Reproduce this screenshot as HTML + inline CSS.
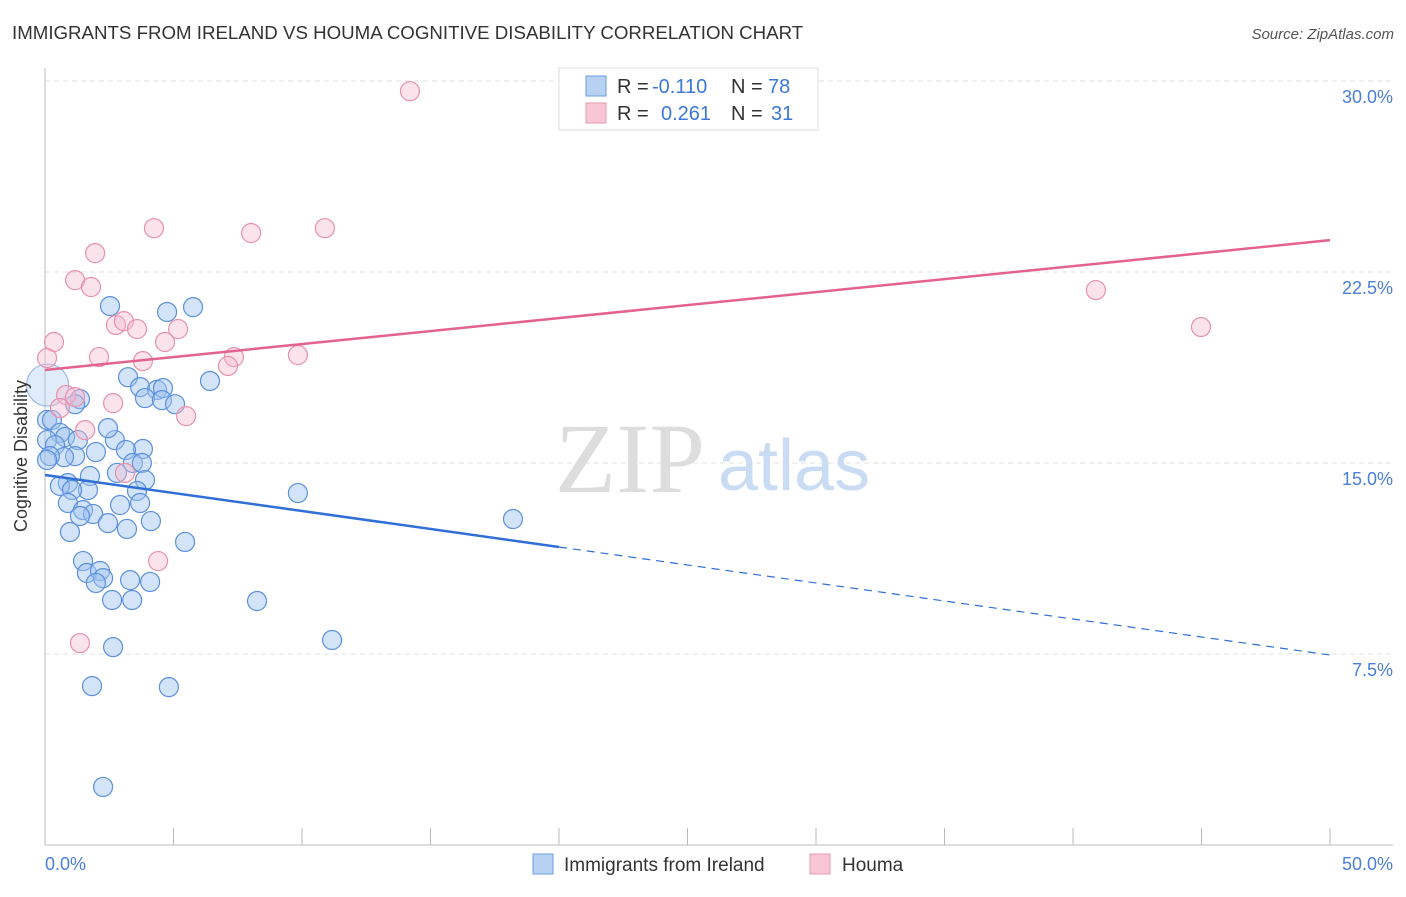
<!DOCTYPE html>
<html><head><meta charset="utf-8"><style>
body{margin:0;background:#fff;font-family:"Liberation Sans",sans-serif;}
</style></head><body>
<svg width="1406" height="892" xmlns="http://www.w3.org/2000/svg" font-family="Liberation Sans, sans-serif">
<text x="12" y="39" font-size="18.7" fill="#333">IMMIGRANTS FROM IRELAND VS HOUMA COGNITIVE DISABILITY CORRELATION CHART</text>
<text x="1394" y="39" font-size="15" fill="#555" font-style="italic" text-anchor="end">Source: ZipAtlas.com</text>
<g id="grid"></g>
<text x="555" y="492" font-size="100" fill="#ddd" font-family="Liberation Serif, serif">ZIP</text>
<text x="718" y="490" font-size="72" fill="#c9dcf3">atlas</text>
<g id="pts"></g>
<g id="lines"></g>
<text x="27" y="456" font-size="18" fill="#333" transform="rotate(-90 27 456)" text-anchor="middle">Cognitive Disability</text>
<text x="45" y="870" font-size="18" fill="#4a7fd8">0.0%</text>
<text x="1393" y="870" font-size="18" fill="#4a7fd8" text-anchor="end">50.0%</text>
<g font-size="20">
<rect x="559" y="68" width="259" height="62" fill="#fff" stroke="#ddd"/>
<rect x="586" y="76" width="20" height="20" fill="#b7d1f3" stroke="#6d9ee0"/>
<rect x="586" y="103" width="20" height="20" fill="#f8c6d5" stroke="#e999b2"/>
<text x="617" y="93" fill="#333">R =</text><text x="652" y="93" fill="#3b78d8">-0.110</text>
<text x="731" y="93" fill="#333">N =</text><text x="768" y="93" fill="#3b78d8">78</text>
<text x="617" y="120" fill="#333">R =</text><text x="661" y="120" fill="#3b78d8">0.261</text>
<text x="731" y="120" fill="#333">N =</text><text x="771" y="120" fill="#3b78d8">31</text>
</g>
<g>
<rect x="533" y="854" width="20" height="20" fill="#b7d1f3" stroke="#6d9ee0"/>
<text x="564" y="871" font-size="19" fill="#333">Immigrants from Ireland</text>
<rect x="810" y="854" width="20" height="20" fill="#f8c6d5" stroke="#e999b2"/>
<text x="842" y="871" font-size="19" fill="#333">Houma</text>
</g>
</svg>
<script>
const yTicks=[7.5,15,22.5,30];
const xTicks=[0,5,10,15,20,25,30,35,40,45,50];
const blueX=[2.53,4.75,5.76,3.23,3.70,4.36,4.59,3.89,4.55,5.06,6.42,1.36,1.17,0.08,0.27,0.58,0.78,0.08,0.39,1.28,2.72,2.45,3.81,3.15,1.98,1.17,0.74,0.19,3.42,3.77,2.80,1.75,3.89,0.89,0.58,1.67,1.05,3.58,3.70,0.89,2.92,1.48,1.87,1.36,4.12,2.45,3.19,0.97,5.45,9.84,18.21,1.48,1.63,2.14,2.26,1.98,3.31,4.09,2.61,3.39,8.25,11.17,2.65,1.83,4.82,2.26,0.08,0.1];
const blueY=[21.16,20.93,21.12,18.37,17.98,17.87,17.94,17.55,17.47,17.31,18.22,17.51,17.31,16.69,16.69,16.18,16.02,15.90,15.70,15.90,15.90,16.37,15.55,15.51,15.43,15.27,15.23,15.27,15.00,15.00,14.61,14.49,14.33,14.21,14.10,13.94,13.94,13.90,13.43,13.43,13.35,13.15,13.00,12.92,12.72,12.64,12.41,12.29,11.90,13.82,12.80,11.15,10.68,10.76,10.48,10.29,10.40,10.33,9.62,9.62,9.58,8.05,7.77,6.24,6.20,2.28,15.12,18.06];
const pinkX=[14.20,4.24,8.02,10.89,1.95,1.17,1.79,0.35,0.08,2.76,3.07,3.58,5.18,4.67,2.10,3.81,7.35,7.12,9.84,0.82,1.17,0.58,2.65,1.56,5.49,3.11,4.40,1.36,40.89,44.98];
const pinkY=[29.60,24.22,24.03,24.22,23.24,22.18,21.91,19.75,19.12,20.42,20.57,20.26,20.26,19.75,19.16,19.00,19.16,18.81,19.24,17.67,17.59,17.16,17.35,16.29,16.84,14.61,11.15,7.93,21.79,20.34];
const blueTrend=[14.53,7.46];const blueSolidEnd=20;
const pinkTrend=[18.65,23.75];
const X=v=>45+v/50*1285, Y=v=>845-v/7.5*191;
const NS="http://www.w3.org/2000/svg";
function mk(t,a,p){const e=document.createElementNS(NS,t);for(const k in a)e.setAttribute(k,a[k]);p.appendChild(e);return e;}
const g=document.getElementById('grid');
yTicks.forEach(t=>{const l=mk('line',{x1:45,x2:1393,y1:Y(t),y2:Y(t),stroke:'#e2e2e2','stroke-dasharray':'5,4'},g);


const tx=mk('text',{x:1393,y:Y(t)+22,'font-size':18,fill:'#4a7fd8','text-anchor':'end'},g);tx.textContent=t.toFixed(1)+'%';

});
const ax=mk('line',{x1:45,x2:1393,y1:845,y2:845,stroke:'#bbb'},g);


const ay=mk('line',{x1:45,x2:45,y1:68,y2:845,stroke:'#bbb'},g);


xTicks.forEach(t=>{const l=mk('line',{x1:X(t),x2:X(t),y1:828,y2:845,stroke:'#bbb'},g);

});
const p=document.getElementById('pts');
blueX.forEach((x,i)=>{const big=i==blueX.length-1;const c=mk('circle',{cx:X(x),cy:Y(blueY[i]),r:big?21:9.5,fill:big?'rgba(170,200,240,0.35)':'rgba(160,196,240,0.45)',stroke:big?'#9bbbe8':'#5b90dd','stroke-width':1.2},p);

});
pinkX.forEach((x,i)=>{const c=mk('circle',{cx:X(x),cy:Y(pinkY[i]),r:9.5,fill:'rgba(245,185,205,0.4)',stroke:'#e891ad','stroke-width':1.2},p);

});
const L=document.getElementById('lines');
const bAt=x=>blueTrend[0]+(blueTrend[1]-blueTrend[0])*x/50;
const b1=mk('line',{x1:X(0),y1:Y(blueTrend[0]),x2:X(blueSolidEnd),y2:Y(bAt(blueSolidEnd)),stroke:'#2f6fd6','stroke-width':2.5},L);


const b2=mk('line',{x1:X(blueSolidEnd),y1:Y(bAt(blueSolidEnd)),x2:X(50),y2:Y(blueTrend[1]),stroke:'#2f6fd6','stroke-width':1.2,'stroke-dasharray':'8,6'},L);


const pl=mk('line',{x1:X(0),y1:Y(pinkTrend[0]),x2:X(50),y2:Y(pinkTrend[1]),stroke:'#e4628e','stroke-width':2.5},L);


</script>
</body></html>
